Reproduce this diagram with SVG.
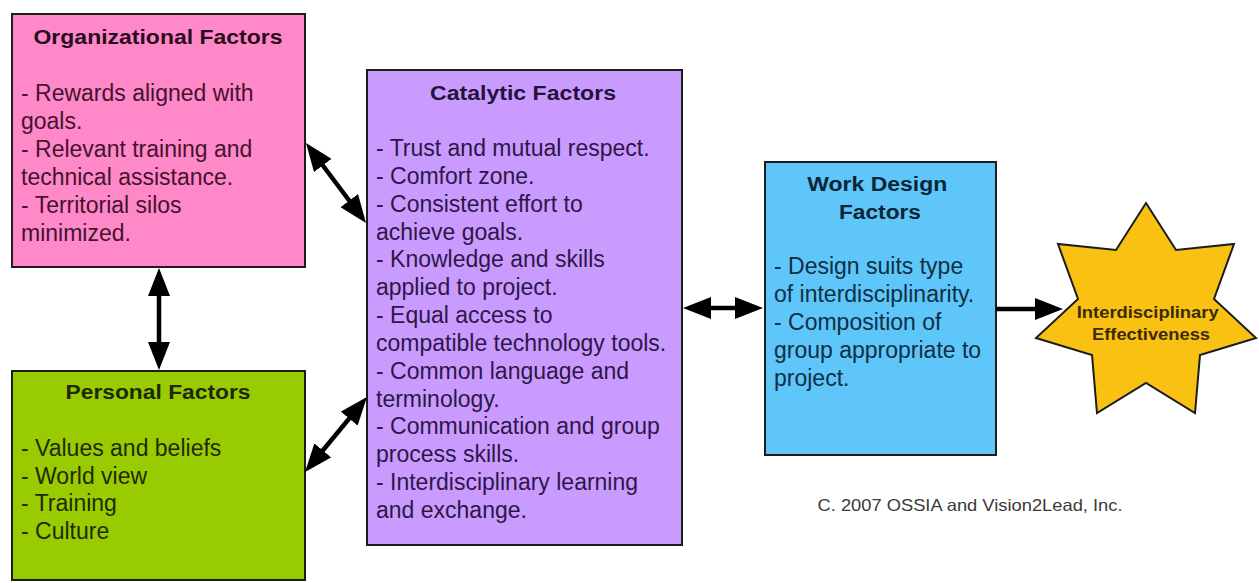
<svg xmlns="http://www.w3.org/2000/svg" width="1259" height="583" viewBox="0 0 1259 583">
<style>
text{font-family:"Liberation Sans",Arial,Helvetica,sans-serif}
.box{stroke:#1c1c1c;stroke-width:2}
.ttl{font-weight:bold;font-size:19.5px;text-anchor:middle}
.body{font-size:23px}
.conn{stroke:#000;stroke-width:4.5;fill:none}
</style>
<defs>
<marker id="ah" markerUnits="userSpaceOnUse" markerWidth="28" markerHeight="22" viewBox="0 0 28 22" refX="18" refY="11" orient="auto-start-reverse">
<path d="M0,0 L28,11 L0,22 z" fill="#000"/>
</marker>
</defs>
<rect width="1259" height="583" fill="#fff"/>
<g id="organizational">
<rect class="box" x="12" y="14" width="293" height="253" fill="#FF88C8"/>
<text class="ttl" x="158" y="44" fill="#2a0c20" textLength="249" lengthAdjust="spacingAndGlyphs">Organizational Factors</text>
<text class="body" fill="#45122f">
<tspan x="21" y="101">- Rewards aligned with</tspan>
<tspan x="21" y="129">goals.</tspan>
<tspan x="21" y="157">- Relevant training and</tspan>
<tspan x="21" y="185">technical assistance.</tspan>
<tspan x="21" y="213">- Territorial silos</tspan>
<tspan x="21" y="241">minimized.</tspan>
</text>
</g>
<g id="personal">
<rect class="box" x="12" y="371" width="293" height="209" fill="#99CC00"/>
<text class="ttl" x="158" y="399" fill="#1e2804" textLength="185" lengthAdjust="spacingAndGlyphs">Personal Factors</text>
<text class="body" fill="#1f2a05">
<tspan x="21" y="456">- Values and beliefs</tspan>
<tspan x="21" y="483.5">- World view</tspan>
<tspan x="21" y="511">- Training</tspan>
<tspan x="21" y="538.5">- Culture</tspan>
</text>
</g>
<g id="catalytic">
<rect class="box" x="367" y="70" width="315" height="475" fill="#C99BFF"/>
<text class="ttl" x="523" y="100" fill="#24123a" textLength="186" lengthAdjust="spacingAndGlyphs">Catalytic Factors</text>
<text class="body" fill="#2e1648">
<tspan x="376" y="156">- Trust and mutual respect.</tspan>
<tspan x="376" y="184">- Comfort zone.</tspan>
<tspan x="376" y="212">- Consistent effort to</tspan>
<tspan x="376" y="240">achieve goals.</tspan>
<tspan x="376" y="267">- Knowledge and skills</tspan>
<tspan x="376" y="295">applied to project.</tspan>
<tspan x="376" y="323">- Equal access to</tspan>
<tspan x="376" y="351">compatible technology tools.</tspan>
<tspan x="376" y="379">- Common language and</tspan>
<tspan x="376" y="407">terminology.</tspan>
<tspan x="376" y="434">- Communication and group</tspan>
<tspan x="376" y="462">process skills.</tspan>
<tspan x="376" y="490">- Interdisciplinary learning</tspan>
<tspan x="376" y="518">and exchange.</tspan>
</text>
</g>
<g id="workdesign">
<rect class="box" x="765" y="162" width="231" height="293" fill="#5EC6F8"/>
<text class="ttl" fill="#0c2536">
<tspan x="880" y="191" textLength="140" lengthAdjust="spacingAndGlyphs">Work Design</tspan>
<tspan x="880" y="219" textLength="82" lengthAdjust="spacingAndGlyphs">Factors</tspan>
</text>
<text class="body" fill="#0f2f45">
<tspan x="774" y="274">- Design suits type</tspan>
<tspan x="774" y="302">of interdisciplinarity.</tspan>
<tspan x="774" y="330">- Composition of</tspan>
<tspan x="774" y="358">group appropriate to</tspan>
<tspan x="774" y="386">project.</tspan>
</text>
</g>
<g id="effectiveness">
<polygon points="1146,203 1176,250 1234,244 1214,299 1256,338 1200,355 1195,413 1146,383 1097,413 1092,355 1036,338 1078,299 1058,244 1116,250" fill="#F9C112" stroke="#1c1c1c" stroke-width="2" stroke-linejoin="miter"/>
<text font-weight="bold" font-size="16.5px" text-anchor="middle" fill="#3a2a05">
<tspan x="1150" y="318" textLength="142" lengthAdjust="spacingAndGlyphs">Interdisciplinary</tspan>
<tspan x="1151" y="340" textLength="118" lengthAdjust="spacingAndGlyphs">Effectiveness</tspan>
</text>
</g>
<g id="copyright">
<text x="970" y="511" font-size="16.5px" text-anchor="middle" fill="#3a3a3a" textLength="305" lengthAdjust="spacingAndGlyphs">C. 2007 OSSIA and Vision2Lead, Inc.</text>
</g>
<g id="connectors">
<line class="conn" x1="312" y1="151" x2="360" y2="215" marker-start="url(#ah)" marker-end="url(#ah)"/>
<line class="conn" x1="311.4" y1="464.3" x2="360.6" y2="404.7" marker-start="url(#ah)" marker-end="url(#ah)"/>
<line class="conn" x1="159" y1="278" x2="159" y2="360" marker-start="url(#ah)" marker-end="url(#ah)"/>
<line class="conn" x1="693" y1="308" x2="753" y2="308" marker-start="url(#ah)" marker-end="url(#ah)"/>
<line class="conn" x1="996" y1="309" x2="1053" y2="309" marker-end="url(#ah)"/>
</g>
</svg>
